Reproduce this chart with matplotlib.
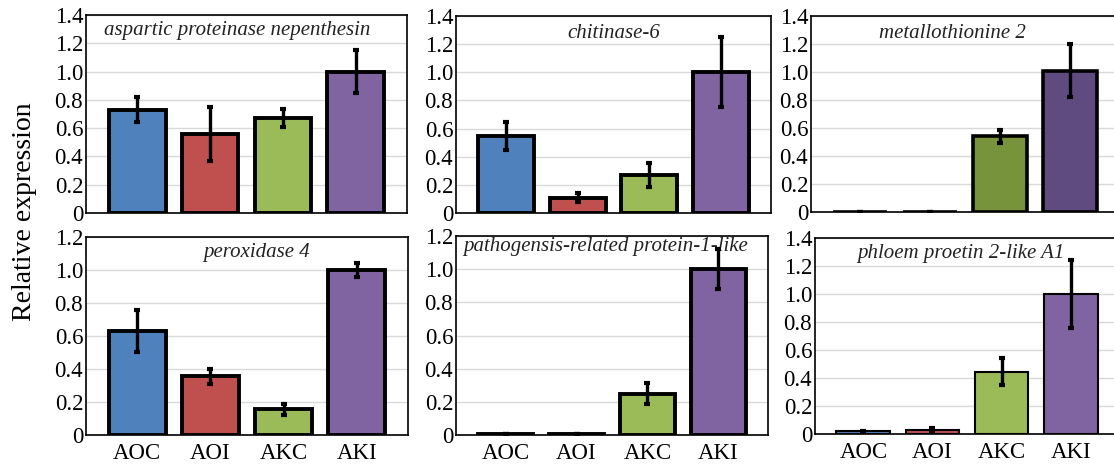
import numpy as np
import matplotlib
matplotlib.use('Agg')
import matplotlib.pyplot as plt
from matplotlib.ticker import FuncFormatter

plt.rcParams['font.family'] = ['Liberation Serif', 'DejaVu Serif']

groups = ['AOC', 'AOI', 'AKC', 'AKI']

genes = ['aspartic proteinase nepenthesin', 'chitinase-6', 'metallothionine 2',
         'peroxidase 4', 'pathogensis-related protein-1-like', 'phloem proetin 2-like A1']

means = [
    [0.73, 0.56, 0.67, 1.00],
    [0.55, 0.11, 0.27, 1.00],
    [0.003, 0.003, 0.54, 1.01],
    [0.63, 0.355, 0.155, 1.00],
    [0.005, 0.005, 0.25, 1.00],
    [0.02, 0.03, 0.445, 1.00],
]
errs = [
    [0.09, 0.19, 0.065, 0.15],
    [0.10, 0.03, 0.085, 0.25],
    [0.0, 0.0, 0.045, 0.19],
    [0.125, 0.045, 0.035, 0.045],
    [0.0, 0.0, 0.065, 0.12],
    [0.005, 0.01, 0.095, 0.245],
]
ymax = [1.4, 1.4, 1.4, 1.2, 1.2, 1.4]

colors = ['#4F81BD', '#C0504D', '#9BBB59', '#8064A2']
colors_mt = ['#4F81BD', '#C0504D', '#77933C', '#5F4B7F']

W, H = 1114, 468
boxes = [  # left, right, top, bottom in pixels
    (86, 407, 15, 213),
    (456, 771, 16, 213),
    (811, 1119, 16, 212),
    (86, 408, 237, 435),
    (456, 768, 236, 435),
    (815, 1119, 238, 434),
]
title_x = [0.47, 0.5, 0.46, 0.53, 0.48, 0.48]
title_y = [0.92, 0.91, 0.91, 0.92, 0.945, 0.92]
edge_w = [2.8, 2.8, 2.6, 2.8, 2.8, 1.5]

fig = plt.figure(figsize=(W / 100, H / 100), dpi=100)

x = np.arange(len(groups))
for i in range(6):
    l, r, t, b = boxes[i]
    ax = fig.add_axes([l / W, 1 - b / H, (r - l) / W, (b - t) / H])
    cols = colors_mt if i == 2 else colors
    ax.bar(x, means[i], width=0.78, color=cols, edgecolor='black', linewidth=edge_w[i], zorder=3)
    ax.errorbar(x, means[i], yerr=errs[i], fmt='none', ecolor='black', elinewidth=2.4,
                capsize=2.5, capthick=3, zorder=4)
    ax.set_xlim(-0.7, 3.7)
    ax.set_ylim(0, ymax[i])
    ax.set_yticks(np.arange(0, ymax[i] + 0.01, 0.2))
    ax.yaxis.set_major_formatter(FuncFormatter(lambda v, p: '0' if abs(v) < 1e-9 else '%.1f' % v))
    ax.grid(axis='y', color='#d9d9d9', linewidth=1, zorder=0)
    ax.tick_params(axis='both', length=0, labelsize=16.5, pad=2)
    ax.tick_params(axis='x', pad=6)
    for s in ax.spines.values():
        s.set_linewidth(1.2)
        s.set_color('black')
    if i >= 3:
        ax.set_xticks(x)
        ax.set_xticklabels(groups, fontsize=16.5)
    else:
        ax.set_xticks([])
    ax.text(title_x[i], title_y[i], genes[i], transform=ax.transAxes, ha='center', va='center',
            fontsize=15, style='italic', color='#222222')

fig.text(25 / W, 1 - 212 / H, 'Relative expression', rotation=90, ha='center', va='center', fontsize=20)

plt.savefig('out.png', dpi=100)
